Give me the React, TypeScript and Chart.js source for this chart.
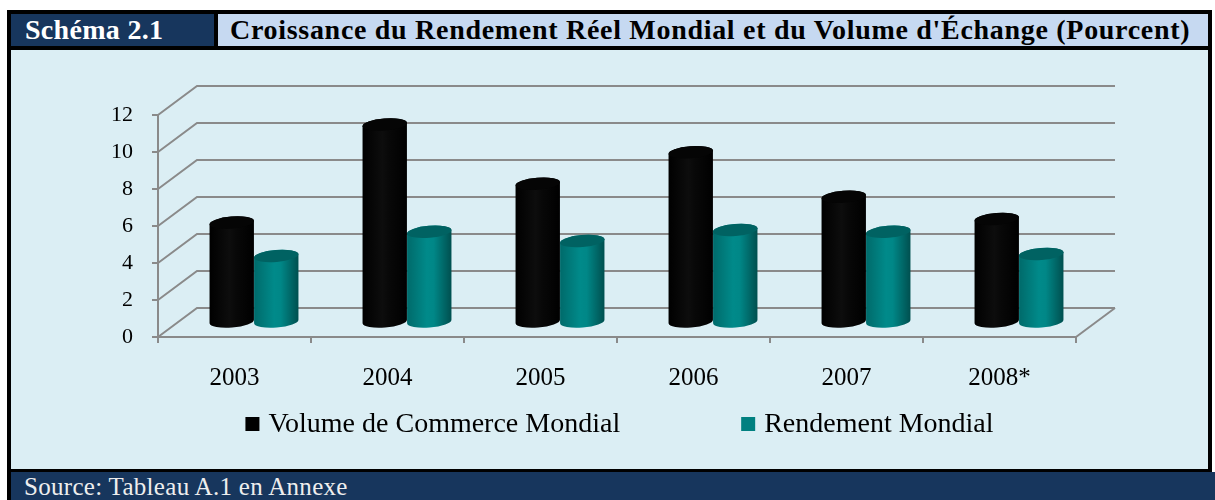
import React, { useEffect, useRef } from 'react';
import { Chart, registerables } from 'chart.js';

Chart.register(...registerables);

// ---- data ----
const categories = ['2003', '2004', '2005', '2006', '2007', '2008*'];
const tradeVolume = [5.4, 10.7, 7.5, 9.2, 6.8, 5.6];
const worldOutput = [3.6, 4.9, 4.4, 5.0, 4.9, 3.7];
const seriesNames = ['Volume de Commerce Mondial', 'Rendement Mondial'];
const yMin = 0;
const yMax = 12;
const yStep = 2;

// ---- style ----
const DX = 39;
const DY = -29;
const GRID = '#8a8a8a';
const FONT = '"Liberation Serif", "Times New Roman", serif';
const NAVY = '#17365D';
const HEADER_BG = '#C6D9F1';
const CHART_BG = '#DBEEF4';

const cylStyles = [
  { stops: [[0, '#000000'], [0.45, '#0d0d0d'], [0.6, '#080808'], [1, '#000000']], top: '#050505' },
  { stops: [[0, '#006a6a'], [0.45, '#008a8a'], [0.6, '#008787'], [1, '#004f4f']], top: '#006262' },
];

function drawCylinder(ctx: CanvasRenderingContext2D, cx: number, top: number, bottom: number, w: number, style: any) {
  const rx = w / 2;
  const ry = 6;
  const rot = -0.08;
  const g = ctx.createLinearGradient(cx - rx, 0, cx + rx, 0);
  style.stops.forEach((s: any) => g.addColorStop(s[0], s[1]));
  ctx.beginPath();
  ctx.ellipse(cx, bottom, rx, ry, rot, Math.PI, 0, true);
  ctx.ellipse(cx, top, rx, ry, rot, 0, Math.PI, true);
  ctx.closePath();
  ctx.fillStyle = g;
  ctx.fill();
  ctx.beginPath();
  ctx.ellipse(cx, top, rx, ry, rot, 0, Math.PI * 2);
  ctx.fillStyle = style.top;
  ctx.fill();
}

const threeD = {
  id: 'threeD',
  beforeDatasetsDraw(chart: any) {
    const { ctx, chartArea } = chart;
    const { left, right } = chartArea;
    const ys = chart.scales.y;
    ctx.save();
    ctx.strokeStyle = GRID;
    ctx.lineWidth = 2;
    ys.ticks.forEach((t: any) => {
      const py = ys.getPixelForValue(t.value);
      ctx.beginPath();
      ctx.moveTo(left, py);
      ctx.lineTo(left + DX, py + DY);
      ctx.lineTo(right + DX, py + DY);
      ctx.stroke();
    });
    const b = ys.getPixelForValue(yMin);
    ctx.beginPath();
    ctx.moveTo(right, b);
    ctx.lineTo(right + DX, b + DY);
    ctx.stroke();
    ctx.restore();
  },
  beforeDatasetDraw() {
    return false;
  },
  afterDatasetsDraw(chart: any) {
    const { ctx } = chart;
    const n = chart.data.labels.length;
    ctx.save();
    for (let i = 0; i < n; i++) {
      chart.data.datasets.forEach((_: any, di: number) => {
        const meta = chart.getDatasetMeta(di);
        const el = meta.data[i];
        if (!el) return;
        const p = el.getProps(['x', 'y', 'base', 'width'], true);
        drawCylinder(ctx, p.x + DX / 2, p.y + DY / 2, p.base + DY / 2, p.width, cylStyles[di]);
      });
    }
    ctx.restore();
  },
  afterDraw(chart: any) {
    const { ctx, chartArea } = chart;
    const ds = chart.data.datasets;
    ctx.save();
    ctx.font = `28px ${FONT}`;
    ctx.textBaseline = 'alphabetic';
    const box = 14;
    const textGap = 9;
    const itemGap = 121;
    const widths = ds.map((d: any) => ctx.measureText(d.label).width);
    let total = 0;
    widths.forEach((w: number, i: number) => {
      total += box + textGap + w + (i < widths.length - 1 ? itemGap : 0);
    });
    let x = (chartArea.left + chartArea.right) / 2 + 2.5 - total / 2;
    const baseY = chartArea.bottom + 95;
    ds.forEach((d: any, i: number) => {
      ctx.fillStyle = d.backgroundColor;
      ctx.fillRect(x, baseY - 15, box, box);
      ctx.fillStyle = '#000';
      ctx.fillText(d.label, x + box + textGap, baseY);
      x += box + textGap + widths[i] + itemGap;
    });
    ctx.restore();
  },
};

export default function App() {
  const ref = useRef<HTMLCanvasElement | null>(null);
  useEffect(() => {
    if (!ref.current) return;
    let alive = true;
    const chart = new Chart(ref.current, {
      type: 'bar',
      data: {
        labels: categories,
        datasets: [
          { label: seriesNames[0], data: tradeVolume, backgroundColor: '#000000' },
          { label: seriesNames[1], data: worldOutput, backgroundColor: '#008080' },
        ],
      },
      options: {
        responsive: false,
        animation: false,
        events: [],
        layout: { padding: { top: 65, right: 132, left: 0, bottom: 0 } },
        datasets: { bar: { categoryPercentage: 0.582, barPercentage: 1 } },
        plugins: { legend: { display: false }, title: { display: false }, tooltip: { enabled: false } },
        scales: {
          x: {
            grid: { display: true, drawOnChartArea: false, drawTicks: true, tickLength: 6, color: GRID, lineWidth: 2, offset: true },
            border: { display: true, color: GRID, width: 2 },
            ticks: { font: { family: FONT, size: 25 }, color: '#000', padding: 20, maxRotation: 0, autoSkip: false },
            afterFit: (s: any) => { s.height = 132; },
          },
          y: {
            min: yMin,
            max: yMax,
            grid: { display: true, drawOnChartArea: false, drawTicks: true, tickLength: 6, color: GRID, lineWidth: 2 },
            border: { display: true, color: GRID, width: 2 },
            ticks: { stepSize: yStep, font: { family: FONT, size: 22 }, color: '#000', padding: 19 },
            afterFit: (s: any) => { s.width = 147; },
          },
        },
      } as any,
      plugins: [threeD as any],
    });
    const fonts: any = (document as any).fonts;
    if (fonts && fonts.load) {
      Promise.all([
        fonts.load('25px "Liberation Serif"'),
        fonts.load('bold 25px "Liberation Serif"'),
      ]).then(() => {
        if (alive) chart.update();
      }).catch(() => {});
    }
    return () => {
      alive = false;
      chart.destroy();
    };
  }, []);

  return (
    <div style={{ position: 'absolute', left: 0, top: 0, width: 1215, height: 500, overflow: 'hidden', background: '#fff' }}>
      <div style={{ position: 'absolute', left: 7, top: 10, width: 1205, height: 490, background: '#000' }} />
      <div style={{ position: 'absolute', left: 11, top: 14, width: 203, height: 32, background: NAVY }} />
      <div style={{ position: 'absolute', left: 25, top: 16, fontFamily: FONT, fontWeight: 'bold', fontSize: 28, lineHeight: '28px', color: '#fff', whiteSpace: 'nowrap', letterSpacing: '0.3px' }}>Schéma 2.1</div>
      <div style={{ position: 'absolute', left: 218, top: 14, width: 990, height: 32, background: HEADER_BG }} />
      <div style={{ position: 'absolute', left: 230, top: 16, fontFamily: FONT, fontWeight: 'bold', fontSize: 28, lineHeight: '28px', color: '#000', whiteSpace: 'nowrap', letterSpacing: '0.7px' }}>Croissance du Rendement Réel Mondial et du Volume d'Échange (Pourcent)</div>
      <div style={{ position: 'absolute', left: 11, top: 50, width: 1197, height: 419, background: CHART_BG }}>
        <canvas ref={ref} width={1197} height={419} style={{ display: 'block', width: 1197, height: 419 }} />
      </div>
      <div style={{ position: 'absolute', left: 11, top: 472, width: 1204, height: 28, background: NAVY }} />
      <div style={{ position: 'absolute', left: 24, top: 474, fontFamily: FONT, fontSize: 25, lineHeight: '25px', color: '#eeeeee', whiteSpace: 'nowrap', letterSpacing: '0.3px' }}>Source: Tableau A.1 en Annexe</div>
    </div>
  );
}
